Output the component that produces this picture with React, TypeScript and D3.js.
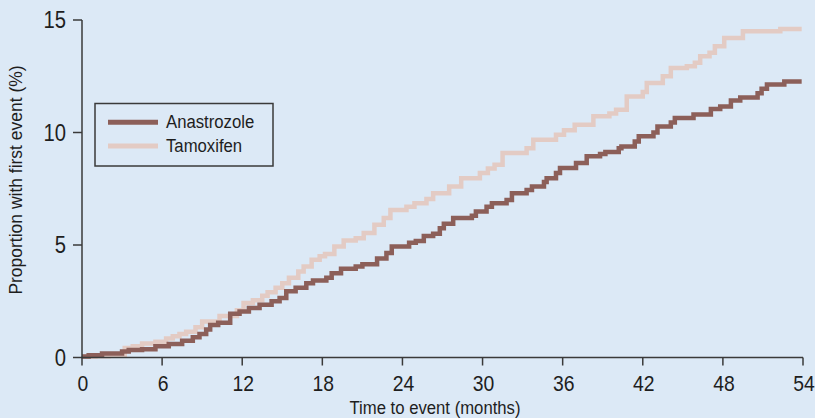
import React from "react";
import * as d3 from "d3";

const xTicks = [0, 6, 12, 18, 24, 30, 36, 42, 48, 54];
const yTicks = [0, 5, 10, 15];

const anastrozole: [number, number][] = [
  [0, 0.05], [0.5, 0.1], [1.5, 0.18], [3, 0.27], [3.5, 0.33], [4.5, 0.37], [5.5, 0.5], [6.5, 0.6],
  [7.5, 0.75], [8.3, 0.9], [8.8, 1.05], [9.3, 1.25], [9.6, 1.45], [10.2, 1.55], [11.1, 1.95], [11.8, 2.05],
  [12.5, 2.2], [13.3, 2.35], [14.2, 2.5], [14.8, 2.65], [15.3, 2.95], [16, 3.1], [16.8, 3.3], [17.3, 3.42],
  [18.3, 3.55], [18.7, 3.75], [19.4, 3.95], [20.5, 4.05], [21, 4.15], [22.1, 4.4], [22.8, 4.65], [23.2, 4.93],
  [24.5, 5.1], [25, 5.18], [25.6, 5.4], [26.3, 5.5], [26.8, 5.75], [27.1, 5.95], [27.8, 6.2], [29.2, 6.3],
  [29.5, 6.49], [30.3, 6.7], [30.7, 6.86], [31.8, 7.0], [32.2, 7.3], [33.3, 7.45], [33.7, 7.6], [34.6, 7.8],
  [34.8, 7.97], [35.5, 8.2], [35.8, 8.42], [37, 8.65], [37.8, 8.94], [38.8, 9.05], [39.2, 9.13], [40.2, 9.3],
  [40.4, 9.38], [41.4, 9.6], [41.7, 9.83], [42.8, 10.0], [43.1, 10.27], [44.1, 10.45], [44.4, 10.65], [45.8, 10.8],
  [47.1, 11.05], [47.8, 11.16], [48.6, 11.42], [49.3, 11.56], [50.6, 11.75], [50.9, 11.94], [51.3, 12.13], [52.6, 12.27],
  [53.9, 12.27],
];

const tamoxifen: [number, number][] = [
  [0, 0.03], [1, 0.06], [2, 0.08], [3.2, 0.42], [3.8, 0.5], [4.5, 0.62], [5.5, 0.7], [6.3, 0.85],
  [6.8, 0.95], [7.3, 1.05], [7.8, 1.15], [8.5, 1.35], [9, 1.6], [10.3, 1.85], [11.6, 2.1], [12.1, 2.42],
  [12.8, 2.55], [13.5, 2.75], [13.9, 2.9], [14.5, 3.1], [15, 3.3], [15.5, 3.54], [16.2, 3.82], [16.6, 4.05],
  [17.2, 4.34], [17.8, 4.5], [18.2, 4.6], [18.9, 4.93], [19.6, 5.2], [20.5, 5.3], [21.1, 5.53], [21.9, 5.9],
  [22.6, 6.2], [23.1, 6.56], [24.3, 6.7], [24.9, 6.86], [25.8, 7.05], [26.3, 7.3], [27.5, 7.6], [28.4, 7.97],
  [29.8, 8.2], [30.4, 8.4], [30.9, 8.57], [31.5, 9.09], [33.3, 9.3], [33.8, 9.68], [35.5, 9.9], [36.1, 10.1],
  [36.9, 10.35], [38.3, 10.72], [39.5, 10.85], [40, 11.01], [40.8, 11.6], [42, 11.8], [42.3, 12.2], [43.5, 12.5],
  [44.1, 12.87], [45.3, 12.94], [45.9, 13.1], [46.3, 13.39], [47, 13.55], [47.4, 13.83], [48.1, 14.2], [49.5, 14.5],
  [52.3, 14.6], [53.9, 14.6],
];

const seriesNames = ["Anastrozole", "Tamoxifen"];
const seriesColors = ["#8c5f59", "#e3cbc4"];

const W = 815;
const H = 418;
const FONT = "'Liberation Sans', Arial, sans-serif";
const SX = 0.88;

function CText(props: {
  x: number;
  y: number;
  size: number;
  anchor?: string;
  rotate?: number;
  sx?: number;
  dy?: string;
  children: React.ReactNode;
}) {
  const { x, y, size, anchor = "start", rotate = 0, sx = SX, dy, children } = props;
  return (
    <text
      transform={`translate(${x},${y}) rotate(${rotate}) scale(${sx},1)`}
      textAnchor={anchor}
      fontSize={size}
      dy={dy}
      fill="#1e1e1e"
    >
      {children}
    </text>
  );
}

export default function App() {
  const x = d3.scaleLinear().domain([0, 54]).range([82, 803]);
  const y = d3.scaleLinear().domain([0, 15]).range([357.5, 20]);
  const line = d3
    .line<[number, number]>()
    .x((d) => x(d[0]))
    .y((d) => y(d[1]))
    .curve(d3.curveStepAfter);
  const axisColor = "#3a3a3a";

  return (
    <svg width={W} height={H} style={{ position: "absolute", left: 0, top: 0, fontFamily: FONT }}>
      <rect width={W} height={H} fill="#dce9f6" />
      <path d={line(tamoxifen) || ""} fill="none" stroke={seriesColors[1]} strokeWidth={4.5} />
      <path d={line(anastrozole) || ""} fill="none" stroke={seriesColors[0]} strokeWidth={4.5} />
      {/* y axis */}
      <line x1={x(0)} x2={x(0)} y1={y(15)} y2={y(0)} stroke={axisColor} strokeWidth={1.5} />
      {yTicks.map((t) => (
        <g key={t}>
          <line x1={73} x2={x(0)} y1={y(t)} y2={y(t)} stroke={axisColor} strokeWidth={1.5} />
          <CText x={66} y={y(t)} dy="0.36em" anchor="end" size={23}>
            {t}
          </CText>
        </g>
      ))}
      {/* x axis */}
      <line x1={x(0) - 0.75} x2={x(54)} y1={y(0)} y2={y(0)} stroke={axisColor} strokeWidth={1.5} />
      {xTicks.map((t) => (
        <g key={t}>
          <line x1={x(t)} x2={x(t)} y1={y(0)} y2={y(0) + 8} stroke={axisColor} strokeWidth={1.5} />
          <CText x={x(t) + 1} y={391} anchor="middle" size={22}>
            {t}
          </CText>
        </g>
      ))}
      <CText x={435} y={413.5} anchor="middle" size={19}>
        Time to event (months)
      </CText>
      <CText x={22} y={180} anchor="middle" size={19} rotate={-90} sx={0.92}>
        Proportion with first event (%)
      </CText>
      {/* legend */}
      <rect x={95} y={103.5} width={178} height={62.5} fill="none" stroke={axisColor} strokeWidth={1.5} />
      {seriesNames.map((n, i) => (
        <g key={n}>
          <line x1={108} x2={158} y1={122.3 + i * 23.8} y2={122.3 + i * 23.8} stroke={seriesColors[i]} strokeWidth={5} />
          <CText x={166} y={127.5 + i * 24.5} size={19}>
            {n}
          </CText>
        </g>
      ))}
    </svg>
  );
}
